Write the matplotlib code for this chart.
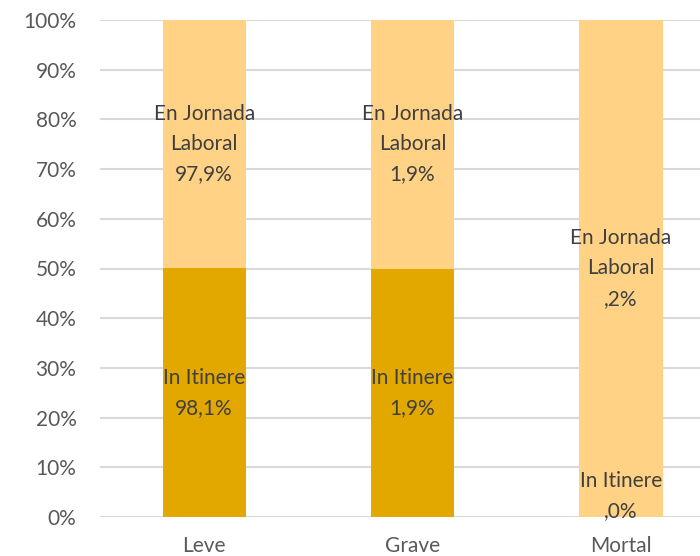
import matplotlib
matplotlib.use("Agg")
import matplotlib.pyplot as plt
import numpy as np

categories = ["Leve", "Grave", "Mortal"]
in_itinere = [98.1, 1.9, 0.0]
en_jornada = [97.9, 1.9, 0.2]
labels_itinere = ["98,1%", "1,9%", ",0%"]
labels_jornada = ["97,9%", "1,9%", ",2%"]

plt.rcParams['font.family'] = ['Lato', 'DejaVu Sans']

fig = plt.figure(figsize=(7.0, 5.56), dpi=100)
ax = fig.add_axes([100/700, 39/556, 625/700, 497/556])

a = np.array(in_itinere)
b = np.array(en_jornada)
tot = a + b
pa = a / tot * 100
pb = b / tot * 100
x = np.arange(len(categories))

ax.bar(x, pa, width=0.4, color="#E2A800", zorder=3)
ax.bar(x, pb, width=0.4, bottom=pa, color="#FFD285", zorder=3)

txtc = "#404040"
for i in range(len(categories)):
    yc = max(pa[i] / 2, 4.3)
    ax.text(x[i], yc, "In Itinere\n" + labels_itinere[i], ha="center", va="center",
            fontsize=15, color=txtc, zorder=4, linespacing=1.64)
    yc2 = pa[i] + pb[i] / 2
    ax.text(x[i], yc2, "En Jornada\nLaboral\n" + labels_jornada[i], ha="center", va="center",
            fontsize=15, color=txtc, zorder=4, linespacing=1.64)

ax.set_xlim(-0.5, 2.5)
ax.set_ylim(0, 100)
ax.set_yticks(np.arange(0, 101, 10))
ax.set_yticklabels([f"{v}%" for v in range(0, 101, 10)])
ax.set_xticks(x)
ax.set_xticklabels(categories)
ax.grid(axis="y", color="#D9D9D9", linewidth=1.5, zorder=0)
for s in ax.spines.values():
    s.set_visible(False)
ax.tick_params(axis="both", length=0, labelsize=15, colors="#595959")
ax.tick_params(axis="y", pad=17)
ax.tick_params(axis="x", pad=14)

fig.savefig("out.png", dpi=100)
